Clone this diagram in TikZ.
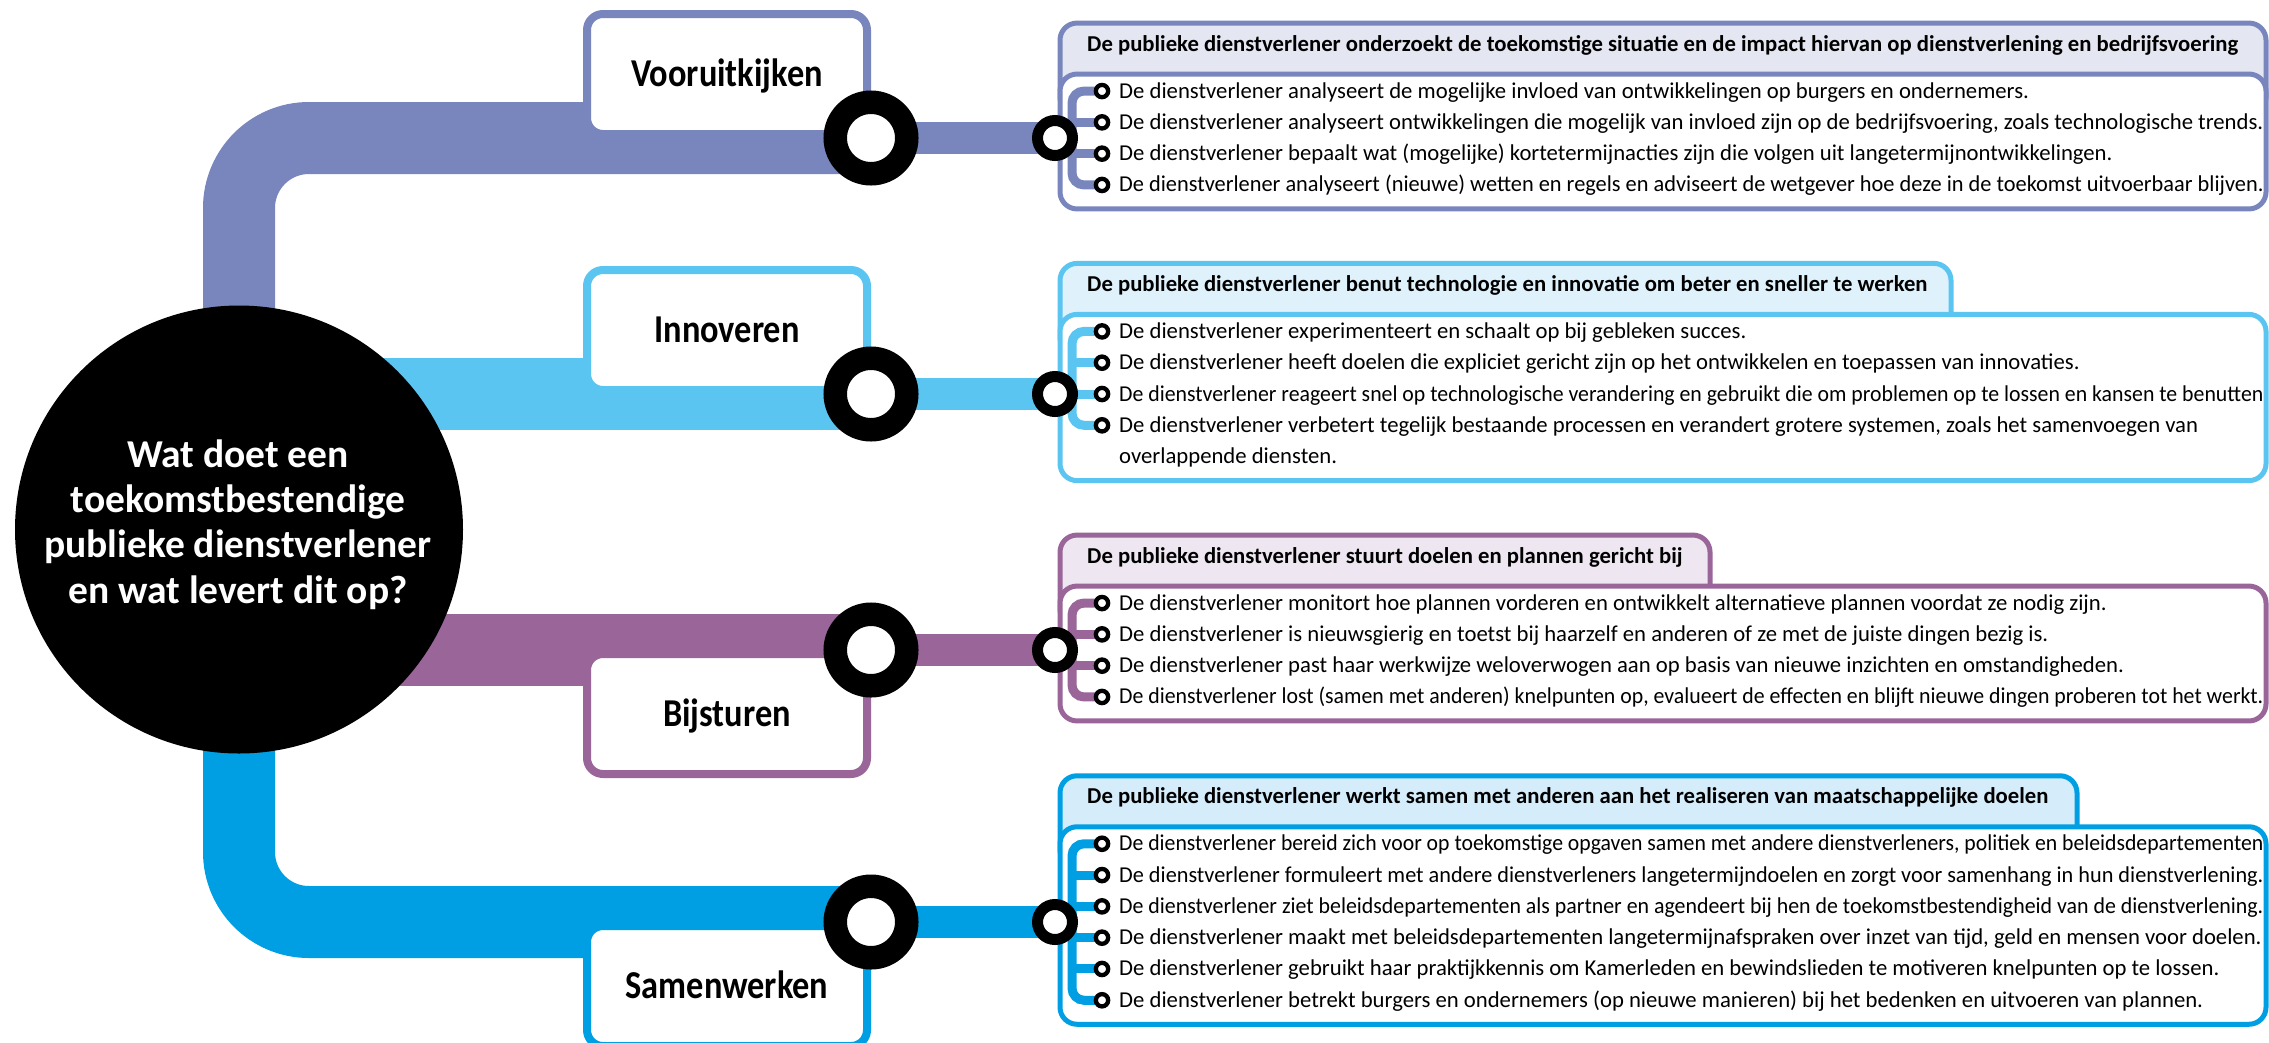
\documentclass[tikz,border=0pt]{standalone}
\usepackage{fontspec}
\usepackage{graphicx}
\setmainfont{Carlito}
\newfontfamily\lblfont{Carlito}[FakeStretch=0.87]
\usetikzlibrary{calc}
\pgfdeclarelayer{back}
\pgfdeclarelayer{mid}
\pgfsetlayers{back,mid,main}
\definecolor{cA}{HTML}{7886BD}
\definecolor{cAl}{HTML}{E4E6F2}
\definecolor{cB}{HTML}{5BC5F2}
\definecolor{cBl}{HTML}{DFF2FC}
\definecolor{cC}{HTML}{9A6599}
\definecolor{cCl}{HTML}{EEE6F0}
\definecolor{cD}{HTML}{009FE3}
\definecolor{cDl}{HTML}{D5ECFA}
\newcommand\myitemfont{\fontsize{22.7}{26}\selectfont}
\newcommand\myhdrfont{\fontsize{22.7}{26}\selectfont\bfseries}
\newcommand\mybigfont{\fontsize{39.5}{45.3}\selectfont\bfseries}
\newcommand\mylblfont{\lblfont\fontsize{39.5}{45.3}\selectfont\bfseries}
\newsavebox\myfitbox
\newcommand\fitw[1]{\sbox\myfitbox{#1}\ifdim\wd\myfitbox>1144pt\resizebox{1144pt}{\height}{\usebox\myfitbox}\else\usebox\myfitbox\fi}
\begin{document}
\begin{tikzpicture}[x=1pt,y=-1pt,
  band/.style={line width=72pt},
  thinband/.style={line width=32pt},
  lbox/.style={draw, fill=white, line width=8pt, rounded corners=16pt, minimum width=280pt, minimum height=120pt, inner sep=0pt, text height=25pt, text depth=0pt, font=\mylblfont},
  qtext/.style={anchor=base, inner sep=0pt, text=white, font=\mybigfont},
  bigring/.style={circle, draw=black, fill=white, line width=23.5pt, minimum size=71.5pt, inner sep=0pt},
  smallring/.style={circle, draw=black, fill=white, line width=11pt, minimum size=35pt, inner sep=0pt},
  bul/.style={circle, draw=black, fill=white, line width=4.3pt, minimum size=12.3pt, inner sep=0pt},
  itm/.style={anchor=base west, inner sep=0pt, font=\myitemfont},
  htxt/.style={anchor=base west, inner sep=0pt, font=\myhdrfont},
  hdrbox/.style={rectangle, line width=5pt, rounded corners=17pt, anchor=north west, inner sep=0pt, minimum height=91pt},
  bodybox/.style={rectangle, draw, fill=white, line width=5pt, rounded corners=17pt, anchor=north west, inner sep=0pt, minimum width=1206pt},
  brk/.style={line width=9pt, rounded corners=12pt}
]
\useasboundingbox (0,0) rectangle (2269,1042);
\clip (0,0) rectangle (2269,1042);

% central question
\node[circle, fill=black, minimum size=448pt, inner sep=0pt] (q) at (239,529.5) {};
\node[qtext] (q1) at (238,467) {Wat doet een};
\node[qtext] (q2) at (238,512) {toekomstbestendige};
\node[qtext] (q3) at (238,557) {publieke dienstverlener};
\node[qtext] (q4) at (238,603) {en wat levert dit op?};

% label boxes
\node[lbox, draw=cA] (l1) at (727,74) {Vooruitkijken};
\node[lbox, draw=cB] (l2) at (727,330) {Innoveren};
\node[lbox, draw=cC] (l3) at (727,714) {Bijsturen};
\node[lbox, draw=cD] (l4) at (727,986) {Samenwerken};

% big rings
\node[bigring] (r1) at (871,138) {};
\node[bigring] (r2) at (871,394) {};
\node[bigring] (r3) at (871,650) {};
\node[bigring] (r4) at (871,922) {};

% small rings
\node[smallring] (s1) at (1055,138) {};
\node[smallring] (s2) at (1055,394) {};
\node[smallring] (s3) at (1055,650) {};
\node[smallring] (s4) at (1055,922) {};

% header texts
\node[htxt] (ht1) at (1087,51.05) {De publieke dienstverlener onderzoekt de toekomstige situatie en de impact hiervan op dienstverlening en bedrijfsvoering};
\node[htxt] (ht2) at (1087,291.4) {De publieke dienstverlener benut technologie en innovatie om beter en sneller te werken};
\node[htxt] (ht3) at (1087,563.05) {De publieke dienstverlener stuurt doelen en plannen gericht bij};
\node[htxt] (ht4) at (1087,803.75) {De publieke dienstverlener werkt samen met anderen aan het realiseren van maatschappelijke doelen};

% items row 1
\foreach \t [count=\k] in {
  {De dienstverlener analyseert de mogelijke invloed van ontwikkelingen op burgers en ondernemers.},
  {De dienstverlener analyseert ontwikkelingen die mogelijk van invloed zijn op de bedrijfsvoering, zoals technologische trends.},
  {De dienstverlener bepaalt wat (mogelijke) kortetermijnacties zijn die volgen uit langetermijnontwikkelingen.},
  {De dienstverlener analyseert (nieuwe) wetten en regels en adviseert de wetgever hoe deze in de toekomst uitvoerbaar blijven.}}
{
  \node[bul] (a\k) at (1102,{91.05+31.3*(\k-1)}) {};
  \node[itm] (ta\k) at ($(a\k.center)+(17,7)$) {\fitw{\t}};
}
% items row 2
\foreach \t [count=\k] in {
  {De dienstverlener experimenteert en schaalt op bij gebleken succes.},
  {De dienstverlener heeft doelen die expliciet gericht zijn op het ontwikkelen en toepassen van innovaties.},
  {De dienstverlener reageert snel op technologische verandering en gebruikt die om problemen op te lossen en kansen te benutten},
  {De dienstverlener verbetert tegelijk bestaande processen en verandert grotere systemen, zoals het samenvoegen van}}
{
  \node[bul] (b\k) at (1102,{331.4+31.3*(\k-1)}) {};
  \node[itm] (tb\k) at ($(b\k.center)+(17,7)$) {\fitw{\t}};
}
\node[itm] (tb5) at ($(b4.center)+(17,38.3)$) {overlappende diensten.};
% items row 3
\foreach \t [count=\k] in {
  {De dienstverlener monitort hoe plannen vorderen en ontwikkelt alternatieve plannen voordat ze nodig zijn.},
  {De dienstverlener is nieuwsgierig en toetst bij haarzelf en anderen of ze met de juiste dingen bezig is.},
  {De dienstverlener past haar werkwijze weloverwogen aan op basis van nieuwe inzichten en omstandigheden.},
  {De dienstverlener lost (samen met anderen) knelpunten op, evalueert de effecten en blijft nieuwe dingen proberen tot het werkt.}}
{
  \node[bul] (c\k) at (1102,{603.05+31.3*(\k-1)}) {};
  \node[itm] (tc\k) at ($(c\k.center)+(17,7)$) {\fitw{\t}};
}
% items row 4
\foreach \t [count=\k] in {
  {De dienstverlener bereid zich voor op toekomstige opgaven samen met andere dienstverleners, politiek en beleidsdepartementen},
  {De dienstverlener formuleert met andere dienstverleners langetermijndoelen en zorgt voor samenhang in hun dienstverlening.},
  {De dienstverlener ziet beleidsdepartementen als partner en agendeert bij hen de toekomstbestendigheid van de dienstverlening.},
  {De dienstverlener maakt met beleidsdepartementen langetermijnafspraken over inzet van tijd, geld en mensen voor doelen.},
  {De dienstverlener gebruikt haar praktijkkennis om Kamerleden en bewindslieden te motiveren knelpunten op te lossen.},
  {De dienstverlener betrekt burgers en ondernemers (op nieuwe manieren) bij het bedenken en uitvoeren van plannen.}}
{
  \node[bul] (d\k) at (1102,{843.75+31.3*(\k-1)}) {};
  \node[itm] (td\k) at ($(d\k.center)+(17,7)$) {\fitw{\t}};
}

% panels and brackets
\begin{pgfonlayer}{mid}
\node[bodybox, draw=cA, minimum height=134.9pt] (bx1) at (1057.5,71.55) {};
\node[bodybox, draw=cB, minimum height=166.2pt] (bx2) at (1057.5,311.9) {};
\node[bodybox, draw=cC, minimum height=134.9pt] (bx3) at (1057.5,583.55) {};
\node[bodybox, draw=cD, minimum height=197.5pt] (bx4) at (1057.5,824.25) {};

\draw[brk, cA] (a1.center) -- ++(-30,0) -- ($(a4.center)+(-30,0)$) -- (a4.center);
\foreach \k in {2,3} \draw[brk, cA] (a\k.center) -- ++(-30,0);
\draw[brk, cB] (b1.center) -- ++(-30,0) -- ($(b4.center)+(-30,0)$) -- (b4.center);
\foreach \k in {2,3} \draw[brk, cB] (b\k.center) -- ++(-30,0);
\draw[brk, cC] (c1.center) -- ++(-30,0) -- ($(c4.center)+(-30,0)$) -- (c4.center);
\foreach \k in {2,3} \draw[brk, cC] (c\k.center) -- ++(-30,0);
\draw[brk, cD] (d1.center) -- ++(-30,0) -- ($(d6.center)+(-30,0)$) -- (d6.center);
\foreach \k in {2,3,4,5} \draw[brk, cD] (d\k.center) -- ++(-30,0);
\end{pgfonlayer}

% bands and headers
\begin{pgfonlayer}{back}
\draw[band, cA, rounded corners=70pt] (q.center) |- (r1.center);
\draw[band, cB] (q.center |- r2.center) -- (r2.center);
\draw[band, cC] (q.center |- r3.center) -- (r3.center);
\draw[band, cD, rounded corners=70pt] (q.center) |- (r4.center);
\draw[thinband, cA] (r1.center) -- (s1.center);
\draw[thinband, cB] (r2.center) -- (s2.center);
\draw[thinband, cC] (r3.center) -- (s3.center);
\draw[thinband, cD] (r4.center) -- (s4.center);
\node[hdrbox, draw=cA, fill=cAl, minimum width=1206pt] (h1) at (1057.5,20.55) {};
\node[hdrbox, draw=cB, fill=cBl, minimum width=891pt] (h2) at (1057.5,260.9) {};
\node[hdrbox, draw=cC, fill=cCl, minimum width=650pt] (h3) at (1057.5,532.55) {};
\node[hdrbox, draw=cD, fill=cDl, minimum width=1017pt] (h4) at (1057.5,773.25) {};
\end{pgfonlayer}
\end{tikzpicture}
\end{document}
